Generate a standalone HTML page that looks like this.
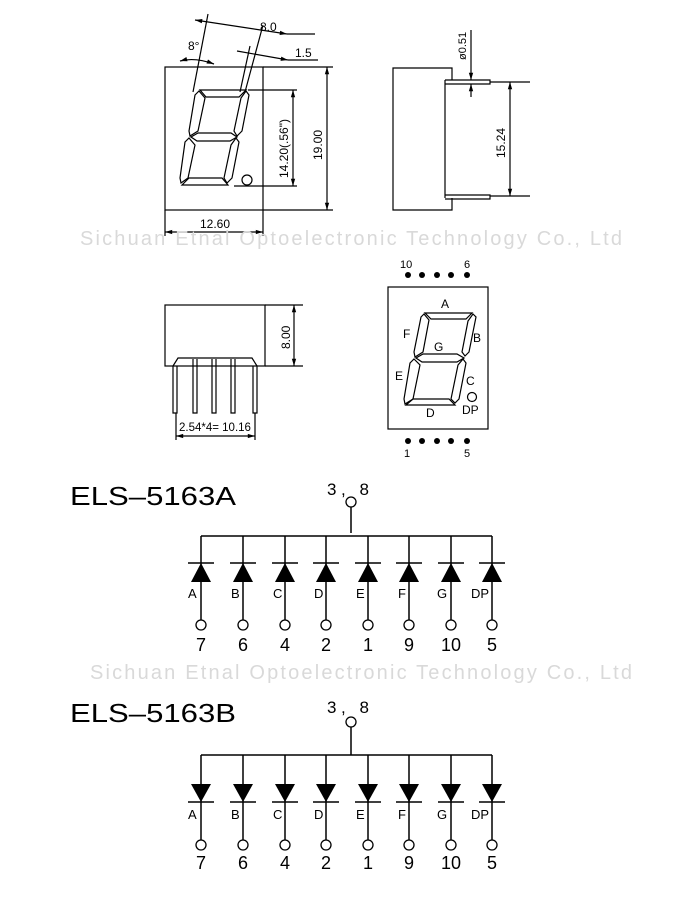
<!DOCTYPE html>
<html><head><meta charset="utf-8"><style>
html,body{margin:0;padding:0;background:#fff;}
svg{display:block;font-family:"Liberation Sans",Arial,sans-serif;}
</style></head><body>
<svg width="700" height="900" viewBox="0 0 700 900" xmlns="http://www.w3.org/2000/svg">
<defs>
<marker id="ar" viewBox="0 0 10 10" refX="10" refY="5" markerWidth="8" markerHeight="6" orient="auto-start-reverse"><path d="M0,2 L10,5 L0,8 z" fill="#000"/></marker>
<g id="dU"><line x1="0" y1="0" x2="0" y2="84" stroke="#000" stroke-width="1.5"/><line x1="-13" y1="27" x2="13" y2="27" stroke="#000" stroke-width="1.5"/><path d="M0,27 L-10,46 L10,46 z" fill="#000"/><circle cx="0" cy="89" r="5" fill="#fff" stroke="#000" stroke-width="1.3"/></g>
<g id="dD"><line x1="0" y1="0" x2="0" y2="85" stroke="#000" stroke-width="1.5"/><path d="M-10,29 L10,29 L0,47 z" fill="#000"/><line x1="-13" y1="47" x2="13" y2="47" stroke="#000" stroke-width="1.5"/><circle cx="0" cy="90" r="5" fill="#fff" stroke="#000" stroke-width="1.3"/></g>
</defs>
<g fill="none" stroke="#000" stroke-width="1.2">
<rect x="165" y="67" width="98" height="143"/>
<line x1="165" y1="210" x2="165" y2="236"/><line x1="263" y1="210" x2="263" y2="236"/>
<line x1="165" y1="232" x2="263" y2="232" marker-start="url(#ar)" marker-end="url(#ar)"/>
<line x1="263" y1="67" x2="333" y2="67"/><line x1="263" y1="210" x2="333" y2="210"/>
<line x1="327" y1="67" x2="327" y2="210" marker-start="url(#ar)" marker-end="url(#ar)"/>
<line x1="248" y1="90" x2="297" y2="90"/><line x1="234" y1="186" x2="297" y2="186"/>
<line x1="293" y1="90" x2="293" y2="186" marker-start="url(#ar)" marker-end="url(#ar)"/>
<line x1="208" y1="14" x2="193" y2="92"/><line x1="263" y1="25" x2="245" y2="92"/><line x1="250" y1="46" x2="240" y2="92"/>
<line x1="195" y1="20" x2="287" y2="34" marker-start="url(#ar)" marker-end="url(#ar)"/><line x1="287" y1="34" x2="315" y2="34"/>
<line x1="237" y1="51" x2="288" y2="60" marker-end="url(#ar)"/><line x1="288" y1="60" x2="318" y2="60"/>
<path d="M180,61 Q195,57 214,64" marker-start="url(#ar)" marker-end="url(#ar)"/>
<path d="M200,90 L246,90 L239,97 L206,97 Z"/>
<path d="M246,91 L249,95 L242,131 L237,136 L234,131 L241,98 Z"/>
<path d="M199,91 L205,98 L198,131 L190,136 L189,131 L195,95 Z"/>
<path d="M191,137 L198,133 L231,133 L237,137 L230,141 L197,141 Z"/>
<path d="M236,138 L239,142 L232,178 L227,183 L224,178 L231,145 Z"/>
<path d="M189,138 L195,145 L188,178 L181,183 L180,178 L185,142 Z"/>
<path d="M182,185 L189,178 L222,178 L228,185 Z"/>
<circle cx="247" cy="180" r="5"/>
<path d="M452,80 L452,68 L393,68 L393,210 L452,210 L452,198"/>
<line x1="445" y1="80" x2="445" y2="198"/>
<path d="M445,80 L490,80 L490,84 L445,84"/><path d="M445,195 L490,195 L490,199 L445,199"/>
<line x1="490" y1="82" x2="530" y2="82"/><line x1="490" y1="196" x2="530" y2="196"/>
<line x1="510" y1="82" x2="510" y2="196" marker-start="url(#ar)" marker-end="url(#ar)"/>
<line x1="471" y1="30" x2="471" y2="80" marker-end="url(#ar)"/><line x1="471" y1="97" x2="471" y2="84" marker-end="url(#ar)"/>
<rect x="165" y="305" width="100" height="61"/>
<line x1="265" y1="305" x2="303" y2="305"/><line x1="265" y1="366" x2="303" y2="366"/>
<line x1="294" y1="305" x2="294" y2="366" marker-start="url(#ar)" marker-end="url(#ar)"/>
<path d="M173,366 L178,358 L252,358 L257,366"/>
<path d="M173,366 L173,413 L177,413 L177,366"/>
<path d="M193,359 L193,413 L197,413 L197,359"/>
<path d="M212,359 L212,413 L216,413 L216,359"/>
<path d="M231,359 L231,413 L235,413 L235,359"/>
<path d="M253,366 L253,413 L257,413 L257,366"/>
<line x1="176" y1="413" x2="176" y2="440"/><line x1="255" y1="413" x2="255" y2="440"/>
<line x1="176" y1="436" x2="255" y2="436" marker-start="url(#ar)" marker-end="url(#ar)"/>
<rect x="388" y="287" width="100" height="142"/>
<path d="M425,313 L472,313 L466,319 L431,319 Z"/>
<path d="M473,314 L476,317 L469,352 L465,356 L462,352 L468,321 Z"/>
<path d="M424,314 L429,320 L423,352 L415,357 L414,352 L421,317 Z"/>
<path d="M416,358 L423,354 L457,354 L464,358 L457,362 L422,362 Z"/>
<path d="M463,359 L466,363 L459,399 L455,403 L451,399 L458,365 Z"/>
<path d="M414,359 L420,365 L413,399 L405,404 L404,399 L410,363 Z"/>
<path d="M406,405 L413,399 L449,399 L455,405 Z"/>
<circle cx="472" cy="397" r="4.5"/>
</g>
<g fill="#000">
<circle cx="408" cy="275" r="3"/><circle cx="422" cy="275" r="3"/><circle cx="437" cy="275" r="3"/><circle cx="451" cy="275" r="3"/><circle cx="467" cy="275" r="3"/>
<circle cx="408" cy="441" r="3"/><circle cx="422" cy="441" r="3"/><circle cx="437" cy="441" r="3"/><circle cx="451" cy="441" r="3"/><circle cx="467" cy="441" r="3"/>
</g>
<g font-size="12" fill="#000">
<text x="260" y="31">8.0</text><text x="295" y="57">1.5</text><text x="188" y="50">8°</text>
<text x="200" y="228">12.60</text>
<text transform="translate(322,160) rotate(-90)">19.00</text>
<text transform="translate(288,178) rotate(-90)">14.20(.56")</text>
<text transform="translate(505,158) rotate(-90)">15.24</text>
<text transform="translate(466,60) rotate(-90)" font-size="11">ø0.51</text>
<text transform="translate(290,349) rotate(-90)">8.00</text>
<text x="179" y="431" font-size="11.5">2.54*4= 10.16</text>
<text x="400" y="268" font-size="11">10</text><text x="464" y="268" font-size="11">6</text>
<text x="404" y="457" font-size="11">1</text><text x="464" y="457" font-size="11">5</text>
<text x="441" y="308">A</text><text x="473" y="342">B</text><text x="403" y="338">F</text><text x="434" y="351">G</text>
<text x="395" y="380">E</text><text x="466" y="385">C</text><text x="426" y="417">D</text><text x="462" y="414">DP</text>
</g>
<g font-size="20" fill="#d9d9d9">
<text x="80" y="245" textLength="542">Sichuan Etnal Optoelectronic Technology Co., Ltd</text>
<text x="90" y="679" textLength="542">Sichuan Etnal Optoelectronic Technology Co., Ltd</text>
</g>
<text x="70" y="505" font-size="26" textLength="166" lengthAdjust="spacingAndGlyphs">ELS–5163A</text>
<text x="327" y="495" font-size="17" textLength="42">3,  8</text>
<line x1="351" y1="507" x2="351" y2="533" stroke="#000" stroke-width="1.5"/>
<circle cx="351" cy="502" r="5" fill="#fff" stroke="#000" stroke-width="1.3"/>
<line x1="201" y1="536" x2="492" y2="536" stroke="#000" stroke-width="1.5"/>
<use href="#dU" x="201" y="536"/><use href="#dU" x="243" y="536"/><use href="#dU" x="285" y="536"/><use href="#dU" x="326" y="536"/><use href="#dU" x="368" y="536"/><use href="#dU" x="409" y="536"/><use href="#dU" x="451" y="536"/><use href="#dU" x="492" y="536"/>
<g font-size="13"><text x="188" y="598">A</text><text x="231" y="598">B</text><text x="273" y="598">C</text><text x="314" y="598">D</text><text x="356" y="598">E</text><text x="398" y="598">F</text><text x="437" y="598">G</text><text x="471" y="598">DP</text></g>
<g font-size="18" text-anchor="middle"><text x="201" y="651">7</text><text x="243" y="651">6</text><text x="285" y="651">4</text><text x="326" y="651">2</text><text x="368" y="651">1</text><text x="409" y="651">9</text><text x="451" y="651">10</text><text x="492" y="651">5</text></g>
<text x="70" y="722" font-size="26" textLength="166" lengthAdjust="spacingAndGlyphs">ELS–5163B</text>
<text x="327" y="713" font-size="17" textLength="42">3,  8</text>
<line x1="351" y1="727" x2="351" y2="755" stroke="#000" stroke-width="1.5"/>
<circle cx="351" cy="722" r="5" fill="#fff" stroke="#000" stroke-width="1.3"/>
<line x1="201" y1="755" x2="492" y2="755" stroke="#000" stroke-width="1.5"/>
<use href="#dD" x="201" y="755"/><use href="#dD" x="243" y="755"/><use href="#dD" x="285" y="755"/><use href="#dD" x="326" y="755"/><use href="#dD" x="368" y="755"/><use href="#dD" x="409" y="755"/><use href="#dD" x="451" y="755"/><use href="#dD" x="492" y="755"/>
<g font-size="13"><text x="188" y="819">A</text><text x="231" y="819">B</text><text x="273" y="819">C</text><text x="314" y="819">D</text><text x="356" y="819">E</text><text x="398" y="819">F</text><text x="437" y="819">G</text><text x="471" y="819">DP</text></g>
<g font-size="18" text-anchor="middle"><text x="201" y="869">7</text><text x="243" y="869">6</text><text x="285" y="869">4</text><text x="326" y="869">2</text><text x="368" y="869">1</text><text x="409" y="869">9</text><text x="451" y="869">10</text><text x="492" y="869">5</text></g>
</svg>
</body></html>
